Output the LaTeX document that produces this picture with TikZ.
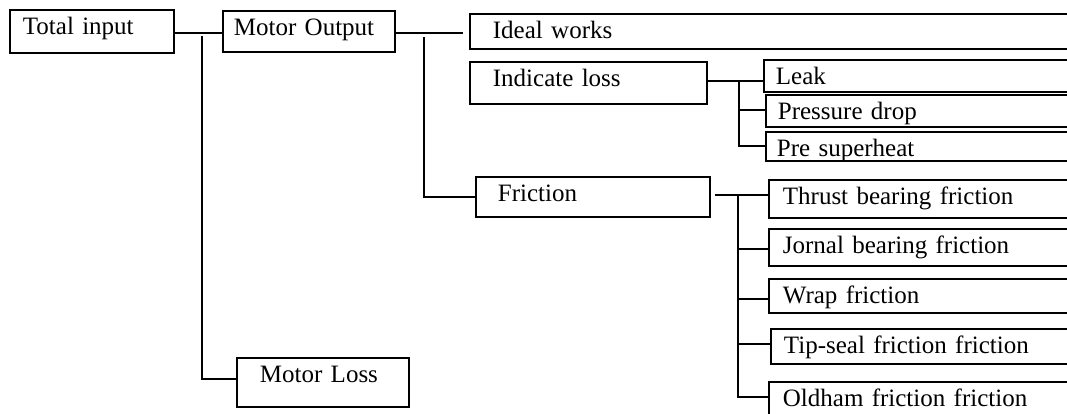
\documentclass[tikz,border=0pt]{standalone}
\usepackage{fontspec}
\setmainfont{Liberation Serif}
\usepackage{tikz}
\usetikzlibrary{positioning,calc}

\tikzset{
    blk/.style={draw, line width=1.8pt, anchor=north west, inner ysep=0pt,
        text height=24.5pt, align=left},
    wire/.style={line width=1.8pt}
}

\begin{document}
\begin{tikzpicture}[x=1pt, y=-1pt, every node/.style={font=\fontsize{25}{30}\selectfont}]
    \useasboundingbox (0,0) rectangle (1067,413);

    \node[blk, inner xsep=13pt, text width=138pt, text depth=18.5pt] (total) at (9,9) {Total input};
    \node[blk, inner xsep=11pt, text width=150pt, text depth=16.5pt] (motout) at (222,10) {Motor Output};
    \node[blk, inner xsep=23pt, text width=126pt, text depth=24.5pt] (motloss) at (236,357) {Motor Loss};

    \node[blk, inner xsep=23pt, text width=560pt, text depth=10.5pt] (ideal) at (469,13) {Ideal works};
    \node[blk, inner xsep=23pt, text width=191pt, text depth=17.5pt] (indloss) at (469,61) {Indicate loss};
    \node[blk, inner xsep=22pt, text width=190pt, text depth=15.5pt] (friction) at (475,176) {Friction};

    \node[blk, inner xsep=12pt, text width=288pt, text depth=7.5pt] (leak) at (763,59) {Leak};
    \node[blk, inner xsep=12pt, text width=286pt, text depth=7.5pt] (pdrop) at (765,94) {Pressure drop};
    \node[blk, inner xsep=11pt, text width=288pt, text depth=4.5pt] (presh) at (765,131) {Pre superheat};

    \node[blk, inner xsep=14pt, text width=279pt, text depth=13.5pt] (thrust) at (768,179) {Thrust bearing friction};
    \node[blk, inner xsep=14pt, text width=279pt, text depth=12.5pt] (jornal) at (768,228) {Jornal bearing friction};
    \node[blk, inner xsep=14pt, text width=279pt, text depth=9.5pt] (wrap) at (768,278) {Wrap friction};
    \node[blk, inner xsep=13pt, text width=279pt, text depth=10.5pt] (tipseal) at (770,328) {Tip-seal friction friction};
    \node[blk, inner xsep=14pt, text width=279pt, text depth=15.5pt] (oldham) at (768,381) {Oldham friction friction};

    \coordinate (j1) at (202,33);
    \coordinate (b1) at (202,36);
    \coordinate (j2) at (424,33);
    \coordinate (b2) at (424,37);
    \coordinate (j3) at (423,197);
    \coordinate (j4) at (739,81);
    \coordinate (j5) at (738,195);
    \coordinate (f4) at (738,397);

    \draw[wire] (total.east |- j1) -- (motout.west |- j1);
    \draw[wire] (b1) |- (motloss.west |- 202,379);

    \draw[wire, shorten >=6pt] (motout.east |- j2) -- (ideal.west |- j2);
    \draw[wire] (b2) |- (friction.west |- j3);

    \draw[wire] (indloss.east |- j4) -- (leak.west |- j4);
    \draw[wire] (j4) |- (presh.west |- 739,146);
    \draw[wire] (739,110) -- (pdrop.west |- 739,110);

    \draw[wire, shorten <=4pt] (friction.east |- j5) -- (thrust.west |- j5);
    \draw[wire] (j5) |- (oldham.west |- f4);
    \foreach \n/\y in {jornal/249, wrap/299, tipseal/344}
        \draw[wire] (737,\y) -- (\n.west |- 737,\y);
\end{tikzpicture}
\end{document}
